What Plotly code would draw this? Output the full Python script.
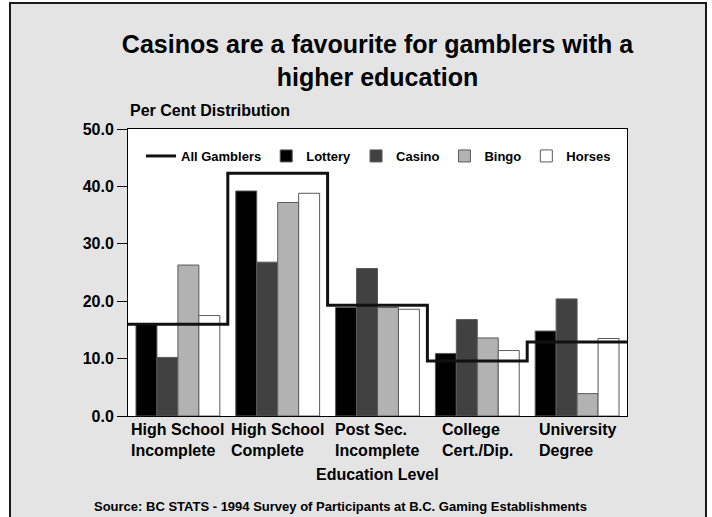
import plotly.graph_objects as go

# Education levels (two-line labels) and per-cent distributions by game type
education = ["High School<br>Incomplete", "High School<br>Complete", "Post Sec.<br>Incomplete",
             "College<br>Cert./Dip.", "University<br>Degree"]
all_gamblers = [16.0, 42.3, 19.3, 9.6, 12.9]
lottery = [16.1, 39.2, 18.9, 10.9, 14.8]
casino = [10.2, 26.8, 25.7, 16.8, 20.4]
bingo = [26.3, 37.2, 18.9, 13.6, 3.9]
horses = [17.5, 38.8, 18.6, 11.4, 13.5]
y_ticks = [0, 10, 20, 30, 40, 50]

FONT = "Liberation Sans, Arial, sans-serif"
PAGE = "#e4e4e4"

# plot area geometry in pixels (for paper-coordinate conversions)
W, H = 712, 517
L, R, T, B = 128, 85, 129, 101
pw, ph = W - L - R, H - T - B


def px_x(x):
    return (x - L) / pw


def px_y(y):
    return (H - B - y) / ph


idx = list(range(len(education)))
# category edges for the step line spanning each education group
edges = [i - 0.5 for i in idx] + [idx[-1] + 0.5]
step_vals = all_gamblers + [all_gamblers[-1]]

fig = go.Figure()
fig.add_trace(go.Scatter(x=edges, y=step_vals, mode="lines", name="All Gamblers",
                         line=dict(color="#111111", width=3, shape="hv")))

series = [("Lottery", lottery, "#000000"), ("Casino", casino, "#414141"),
          ("Bingo", bingo, "#b2b2b2"), ("Horses", horses, "#ffffff")]
for name, vals, col in series:
    fig.add_trace(go.Bar(x=idx, y=vals, name=name, marker=dict(color=col, line=dict(color="#5a5a5a", width=1))))

annotations = [
    dict(text="Per Cent Distribution", xref="paper", yref="paper", x=0.0, y=px_y(110),
         xanchor="left", yanchor="middle", showarrow=False,
         font=dict(family=FONT, size=16, color="#000", weight="bold")),
    dict(text="Education Level", xref="paper", yref="paper", x=0.5, y=px_y(474),
         xanchor="center", yanchor="middle", showarrow=False,
         font=dict(family=FONT, size=16, color="#000", weight="bold")),
    dict(text="Source: BC STATS - 1994 Survey of Participants at B.C. Gaming Establishments",
         xref="paper", yref="paper", x=px_x(340), y=px_y(506), xanchor="center", yanchor="middle",
         showarrow=False, font=dict(family=FONT, size=13, color="#000", weight="bold")),
]
for i, lab in zip(idx, education):
    annotations.append(dict(text=lab, x=i, xref="x", yref="paper", y=px_y(419), xanchor="center",
                            yanchor="top", align="left", showarrow=False,
                            font=dict(family=FONT, size=16, color="#000", weight="bold")))

shapes = [
    # page panel with dark border
    dict(type="rect", xref="paper", yref="paper", x0=px_x(10), x1=px_x(706), y0=px_y(560), y1=px_y(3),
         fillcolor=PAGE, line=dict(color="#1a1a1a", width=2), layer="below"),
    # white plotting area
    dict(type="rect", xref="paper", yref="paper", x0=0, x1=1, y0=0, y1=1,
         fillcolor="#ffffff", line=dict(width=0), layer="below"),
]

fig.update_layout(
    width=W, height=H,
    margin=dict(l=L, r=R, t=T, b=B, autoexpand=False),
    paper_bgcolor="#ffffff", plot_bgcolor="#ffffff",
    font=dict(family=FONT, color="#000"),
    title=dict(text="Casinos are a favourite for gamblers with a<br>higher education",
               x=0.5, xref="paper", xanchor="center", y=1 - 53 / H, yref="container", yanchor="top",
               font=dict(family=FONT, size=25, color="#000", weight="bold")),
    barmode="group", bargap=0.16, bargroupgap=0,
    showlegend=True,
    legend=dict(orientation="h", x=px_x(141), y=px_y(141), xanchor="left", yanchor="top",
                bgcolor="rgba(0,0,0,0)", itemwidth=30, traceorder="normal",
                font=dict(family=FONT, size=13, color="#000", weight="bold")),
    xaxis=dict(range=[-0.5, 4.5], showticklabels=False, ticks="", showgrid=False, zeroline=False,
               showline=True, linecolor="#000", linewidth=1, mirror=True),
    yaxis=dict(range=[0, 50], tickvals=y_ticks, tickformat=".1f", ticks="outside", ticklen=10,
               tickcolor="#000", showgrid=False, zeroline=False, showline=True, linecolor="#000",
               linewidth=1, mirror=True,
               tickfont=dict(family=FONT, size=16, color="#000", weight="bold")),
    annotations=annotations,
    shapes=shapes,
)

fig.write_html("out.html")
